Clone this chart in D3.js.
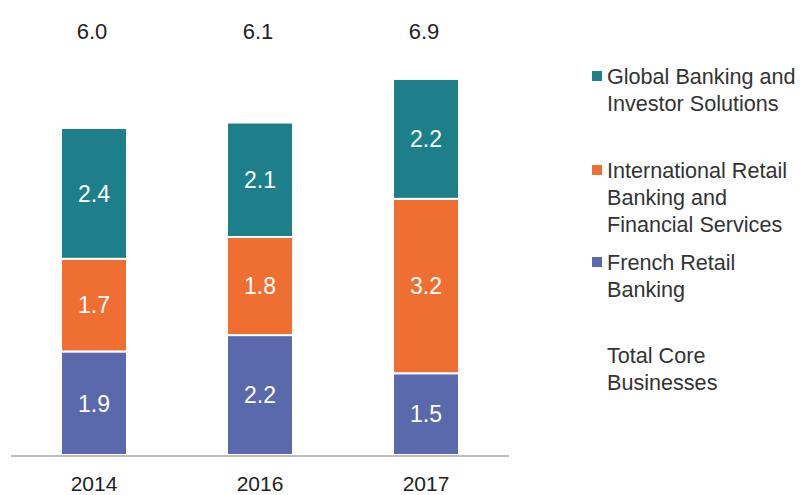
<!DOCTYPE html>
<html>
<head>
<meta charset="utf-8">
<script src="https://cdn.jsdelivr.net/npm/d3@7"></script>
<style>
  body { margin: 0; background: #fff; }
  text { font-family: "Liberation Sans", Arial, Helvetica, sans-serif; }
</style>
</head>
<body>
<svg id="chart"></svg>
<script>
// chart values
const years = ["2014", "2016", "2017"];
const frenchRetail = [1.9, 2.2, 1.5];
const intlRetail = [1.7, 1.8, 3.2];
const globalBanking = [2.4, 2.1, 2.2];
const totals = ["6.0", "6.1", "6.9"];

const seriesNames = [
  "French Retail Banking",
  "International Retail Banking and Financial Services",
  "Global Banking and Investor Solutions"
];
const seriesColors = ["#5a69ab", "#ef6f33", "#1c7f8a"];

// legend entries, top to bottom
const legendLines = [
  { lines: ["Global Banking and", "Investor Solutions"], color: "#1c7f8a" },
  { lines: ["International Retail", "Banking and", "Financial Services"], color: "#ef6f33" },
  { lines: ["French Retail", "Banking"], color: "#5a69ab" },
  { lines: ["Total Core", "Businesses"], color: null }
];

const width = 801;
const height = 495;

const svg = d3.select("#chart")
  .attr("width", width)
  .attr("height", height);

// x scale: bar centres
const x = d3.scalePoint()
  .domain(years)
  .range([11, 509])
  .padding(0.5);
const barWidth = 66;

// y scale
const y = d3.scaleLinear()
  .domain([0, 7])
  .range([455, 73.5]);

// build stacked data
const rows = years.map((yr, i) => ({
  year: yr,
  s0: frenchRetail[i],
  s1: intlRetail[i],
  s2: globalBanking[i]
}));
const stack = d3.stack().keys(["s0", "s1", "s2"]);
const stacked = stack(rows);

const layers = svg.append("g")
  .selectAll("g")
  .data(stacked)
  .join("g")
  .attr("fill", (d, i) => seriesColors[i]);

layers.selectAll("rect")
  .data(d => d)
  .join("rect")
  .attr("x", d => x(d.data.year) - barWidth / 2)
  .attr("y", d => y(d[1]))
  .attr("width", barWidth)
  .attr("height", d => y(d[0]) - y(d[1]))
  .attr("stroke", "#fff")
  .attr("stroke-width", 2);

// segment labels
layers.selectAll("text")
  .data(d => d)
  .join("text")
  .attr("x", d => x(d.data.year))
  .attr("y", d => (y(d[0]) + y(d[1])) / 2)
  .attr("dy", "0.36em")
  .attr("text-anchor", "middle")
  .attr("fill", "#fff")
  .style("font-size", "23px")
  .text(d => (d[1] - d[0]).toFixed(1));

// baseline axis
svg.append("line")
  .attr("x1", 11)
  .attr("x2", 509)
  .attr("y1", 456)
  .attr("y2", 456)
  .attr("stroke", "#bdbdbd")
  .attr("stroke-width", 2);

// year labels
svg.append("g")
  .selectAll("text")
  .data(years)
  .join("text")
  .attr("x", d => x(d))
  .attr("y", 491)
  .attr("text-anchor", "middle")
  .attr("fill", "#222")
  .style("font-size", "21px")
  .text(d => d);

// totals on top
svg.append("g")
  .selectAll("text")
  .data(totals)
  .join("text")
  .attr("x", (d, i) => x(years[i]) - 2)
  .attr("y", 39)
  .attr("text-anchor", "middle")
  .attr("fill", "#222")
  .style("font-size", "22px")
  .text(d => d);

// legend
const legendTop = [76, 170, 262, 355];
const legend = svg.append("g");
legendLines.forEach((item, i) => {
  const g = legend.append("g").attr("transform", "translate(0," + legendTop[i] + ")");
  if (item.color) {
    g.append("rect")
      .attr("x", 592)
      .attr("y", -5)
      .attr("width", 10)
      .attr("height", 10)
      .attr("fill", item.color);
  }
  item.lines.forEach((line, j) => {
    g.append("text")
      .attr("x", 607)
      .attr("y", j * 27)
      .attr("dy", "0.36em")
      .attr("fill", "#333")
      .style("font-size", "21.6px")
      .text(line);
  });
});
</script>
</body>
</html>
